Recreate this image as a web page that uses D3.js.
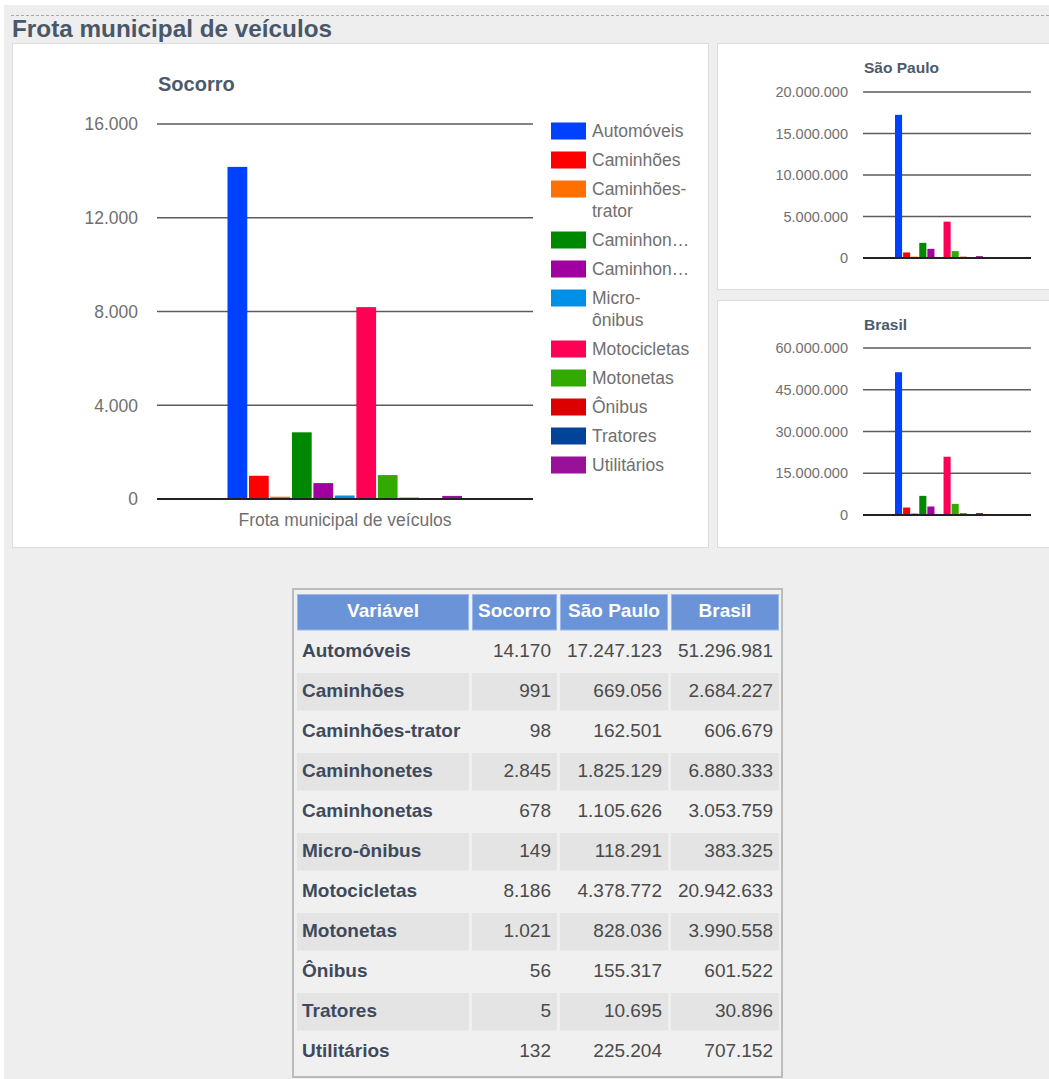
<!DOCTYPE html>
<html>
<head>
<meta charset="utf-8">
<script src="https://cdn.jsdelivr.net/npm/d3@7"></script>
<style>
  body { margin: 0; background: #fff; }
  svg { display: block; font-family: "Liberation Sans", Arial, sans-serif; }
</style>
</head>
<body>
<svg id="page" width="1049" height="1079"></svg>
<script>
// data
const categories = ['Automóveis', 'Caminhões', 'Caminhões-trator', 'Caminhonetes', 'Caminhonetas',
  'Micro-ônibus', 'Motocicletas', 'Motonetas', 'Ônibus', 'Tratores', 'Utilitários'];
const legendLabels = [['Automóveis'], ['Caminhões'], ['Caminhões-', 'trator'], ['Caminhon…'], ['Caminhon…'],
  ['Micro-', 'ônibus'], ['Motocicletas'], ['Motonetas'], ['Ônibus'], ['Tratores'], ['Utilitários']];
const colors = ['#0040ff', '#ff0000', '#ff7000', '#008800', '#a000a0', '#0090e8',
  '#ff0055', '#33aa00', '#dd0000', '#004499', '#991199'];

const socorro = [14170, 991, 98, 2845, 678, 149, 8186, 1021, 56, 5, 132];
const saoPaulo = [17247123, 669056, 162501, 1825129, 1105626, 118291, 4378772, 828036, 155317, 10695, 225204];
const brasil = [51296981, 2684227, 606679, 6880333, 3053759, 383325, 20942633, 3990558, 601522, 30896, 707152];

const socorroTicks = [0, 4000, 8000, 12000, 16000];
const saoPauloTicks = [0, 5000000, 10000000, 15000000, 20000000];
const brasilTicks = [0, 15000000, 30000000, 45000000, 60000000];

const tableHeader = ['Variável', 'Socorro', 'São Paulo', 'Brasil'];

const fmt = d3.formatLocale({ decimal: ',', thousands: '.', grouping: [3], currency: ['', ''] }).format(',d');

const svg = d3.select('#page');

// page background
svg.append('rect').attr('x', 4).attr('y', 5).attr('width', 1045).attr('height', 1074).attr('fill', '#eeeeee');
svg.append('line')
  .attr('x1', 11).attr('x2', 1049).attr('y1', 15.5).attr('y2', 15.5)
  .attr('stroke', '#a8a8a8').attr('stroke-dasharray', '3,2');
svg.append('text')
  .attr('x', 12).attr('y', 37)
  .attr('font-size', 24.3).attr('font-weight', 'bold').attr('fill', '#4a5768')
  .text('Frota municipal de veículos');

// one function per chart box
function drawChart(opts) {
  const g = svg.append('g');
  g.append('rect')
    .attr('x', opts.box[0] + 0.5).attr('y', opts.box[1] + 0.5)
    .attr('width', opts.box[2]).attr('height', opts.box[3])
    .attr('fill', '#fff').attr('stroke', '#dcdcdc');

  g.append('text')
    .attr('x', opts.titleX).attr('y', opts.titleY)
    .attr('font-size', opts.titleSize).attr('font-weight', 'bold').attr('fill', '#4c5a6a')
    .text(opts.title);

  const y = d3.scaleLinear()
    .domain([0, d3.max(opts.ticks)])
    .range([opts.plot.bottom, opts.plot.top]);

  const x = d3.scaleBand()
    .domain(categories)
    .range(opts.group)
    .paddingInner(opts.pad);

  // gridlines
  g.selectAll('.grid')
    .data(opts.ticks.filter(t => t > 0))
    .enter()
    .append('line')
    .attr('x1', opts.plot.left).attr('x2', opts.plot.right)
    .attr('y1', d => y(d)).attr('y2', d => y(d))
    .attr('stroke', '#5c5c5c').attr('stroke-width', 1.5);

  g.selectAll('.ylab')
    .data(opts.ticks)
    .enter()
    .append('text')
    .attr('x', opts.labelX).attr('y', d => y(d))
    .attr('dy', '0.36em')
    .attr('text-anchor', 'end')
    .attr('font-size', opts.labelSize).attr('fill', '#707070')
    .text(d => fmt(d));

  g.selectAll('.bar')
    .data(opts.values)
    .enter()
    .append('rect')
    .attr('x', (d, i) => x(categories[i]))
    .attr('y', d => y(d))
    .attr('width', x.bandwidth())
    .attr('height', d => y(0) - y(d))
    .attr('fill', (d, i) => colors[i]);

  // baseline
  g.append('line')
    .attr('x1', opts.plot.left).attr('x2', opts.plot.right)
    .attr('y1', y(0)).attr('y2', y(0))
    .attr('stroke', '#222').attr('stroke-width', 2);

  if (opts.xLabel) {
    g.append('text')
      .attr('x', (opts.plot.left + opts.plot.right) / 2).attr('y', opts.xLabelY)
      .attr('text-anchor', 'middle')
      .attr('font-size', opts.labelSize).attr('fill', '#707070')
      .text(opts.xLabel);
  }
  return g;
}

const main = drawChart({
  title: 'Socorro', values: socorro, ticks: socorroTicks,
  box: [12, 43, 696, 504], titleX: 158, titleY: 91, titleSize: 20,
  plot: { left: 157, right: 533, top: 124, bottom: 499 },
  group: [227.5, 462], pad: 0.08,
  labelX: 138, labelSize: 17.5,
  xLabel: 'Frota municipal de veículos', xLabelY: 526
});

drawChart({
  title: 'São Paulo', values: saoPaulo, ticks: saoPauloTicks,
  box: [717, 43, 340, 246], titleX: 864, titleY: 73, titleSize: 15.5,
  plot: { left: 863, right: 1031, top: 92, bottom: 258 },
  group: [895, 983], pad: 0.125,
  labelX: 848, labelSize: 14.5
});

drawChart({
  title: 'Brasil', values: brasil, ticks: brasilTicks,
  box: [717, 300, 340, 247], titleX: 864, titleY: 330, titleSize: 15.5,
  plot: { left: 863, right: 1031, top: 348, bottom: 515 },
  group: [895, 983], pad: 0.125,
  labelX: 848, labelSize: 14.5
});

// legend of main chart
let ly = 131;
const legend = main.append('g');
legendLabels.forEach((lines, i) => {
  const item = legend.append('g');
  item.append('rect')
    .attr('x', 551).attr('y', ly - 8.5).attr('width', 35).attr('height', 17)
    .attr('fill', colors[i]);
  lines.forEach((t, j) => {
    item.append('text')
      .attr('x', 592).attr('y', ly + j * 22).attr('dy', '0.36em')
      .attr('font-size', 17.5).attr('fill', '#707070')
      .text(t);
  });
  ly += 29 + (lines.length - 1) * 22;
});

// table
const colX = [297, 472, 560, 671];
const colW = [172, 85, 108, 108];
const rowTop = 594, rowStep = 40, rowH = 36.5;
const table = svg.append('g');
table.append('rect')
  .attr('x', 293).attr('y', 589).attr('width', 489).attr('height', 488)
  .attr('fill', '#f0f0f0').attr('stroke', '#bbbbbb').attr('stroke-width', 2);

tableHeader.forEach((h, c) => {
  table.append('rect')
    .attr('x', colX[c] + 0.5).attr('y', rowTop + 0.5)
    .attr('width', colW[c] - 1).attr('height', rowH - 1)
    .attr('fill', '#6a93d8').attr('stroke', '#9ab8ea');
  table.append('text')
    .attr('x', colX[c] + colW[c] / 2).attr('y', rowTop + rowH / 2 - 2).attr('dy', '0.36em')
    .attr('text-anchor', 'middle')
    .attr('font-size', 19).attr('font-weight', 'bold').attr('fill', '#fff')
    .text(h);
});

categories.forEach((cat, r) => {
  const top = rowTop + (r + 1) * rowStep;
  const cells = [cat, fmt(socorro[r]), fmt(saoPaulo[r]), fmt(brasil[r])];
  cells.forEach((v, c) => {
    if (r % 2 === 1) {
      table.append('rect')
        .attr('x', colX[c]).attr('y', top - 1)
        .attr('width', colW[c]).attr('height', rowH + 1)
        .attr('fill', '#e4e4e4');
    }
    table.append('text')
      .attr('x', c === 0 ? colX[c] + 5 : colX[c] + colW[c] - 6)
      .attr('y', top + rowH / 2 - 2).attr('dy', '0.36em')
      .attr('text-anchor', c === 0 ? 'start' : 'end')
      .attr('font-size', 19)
      .attr('font-weight', c === 0 ? 'bold' : 'normal')
      .attr('fill', c === 0 ? '#3e4a5c' : '#4a4a4a')
      .text(v);
  });
});
</script>
</body>
</html>
